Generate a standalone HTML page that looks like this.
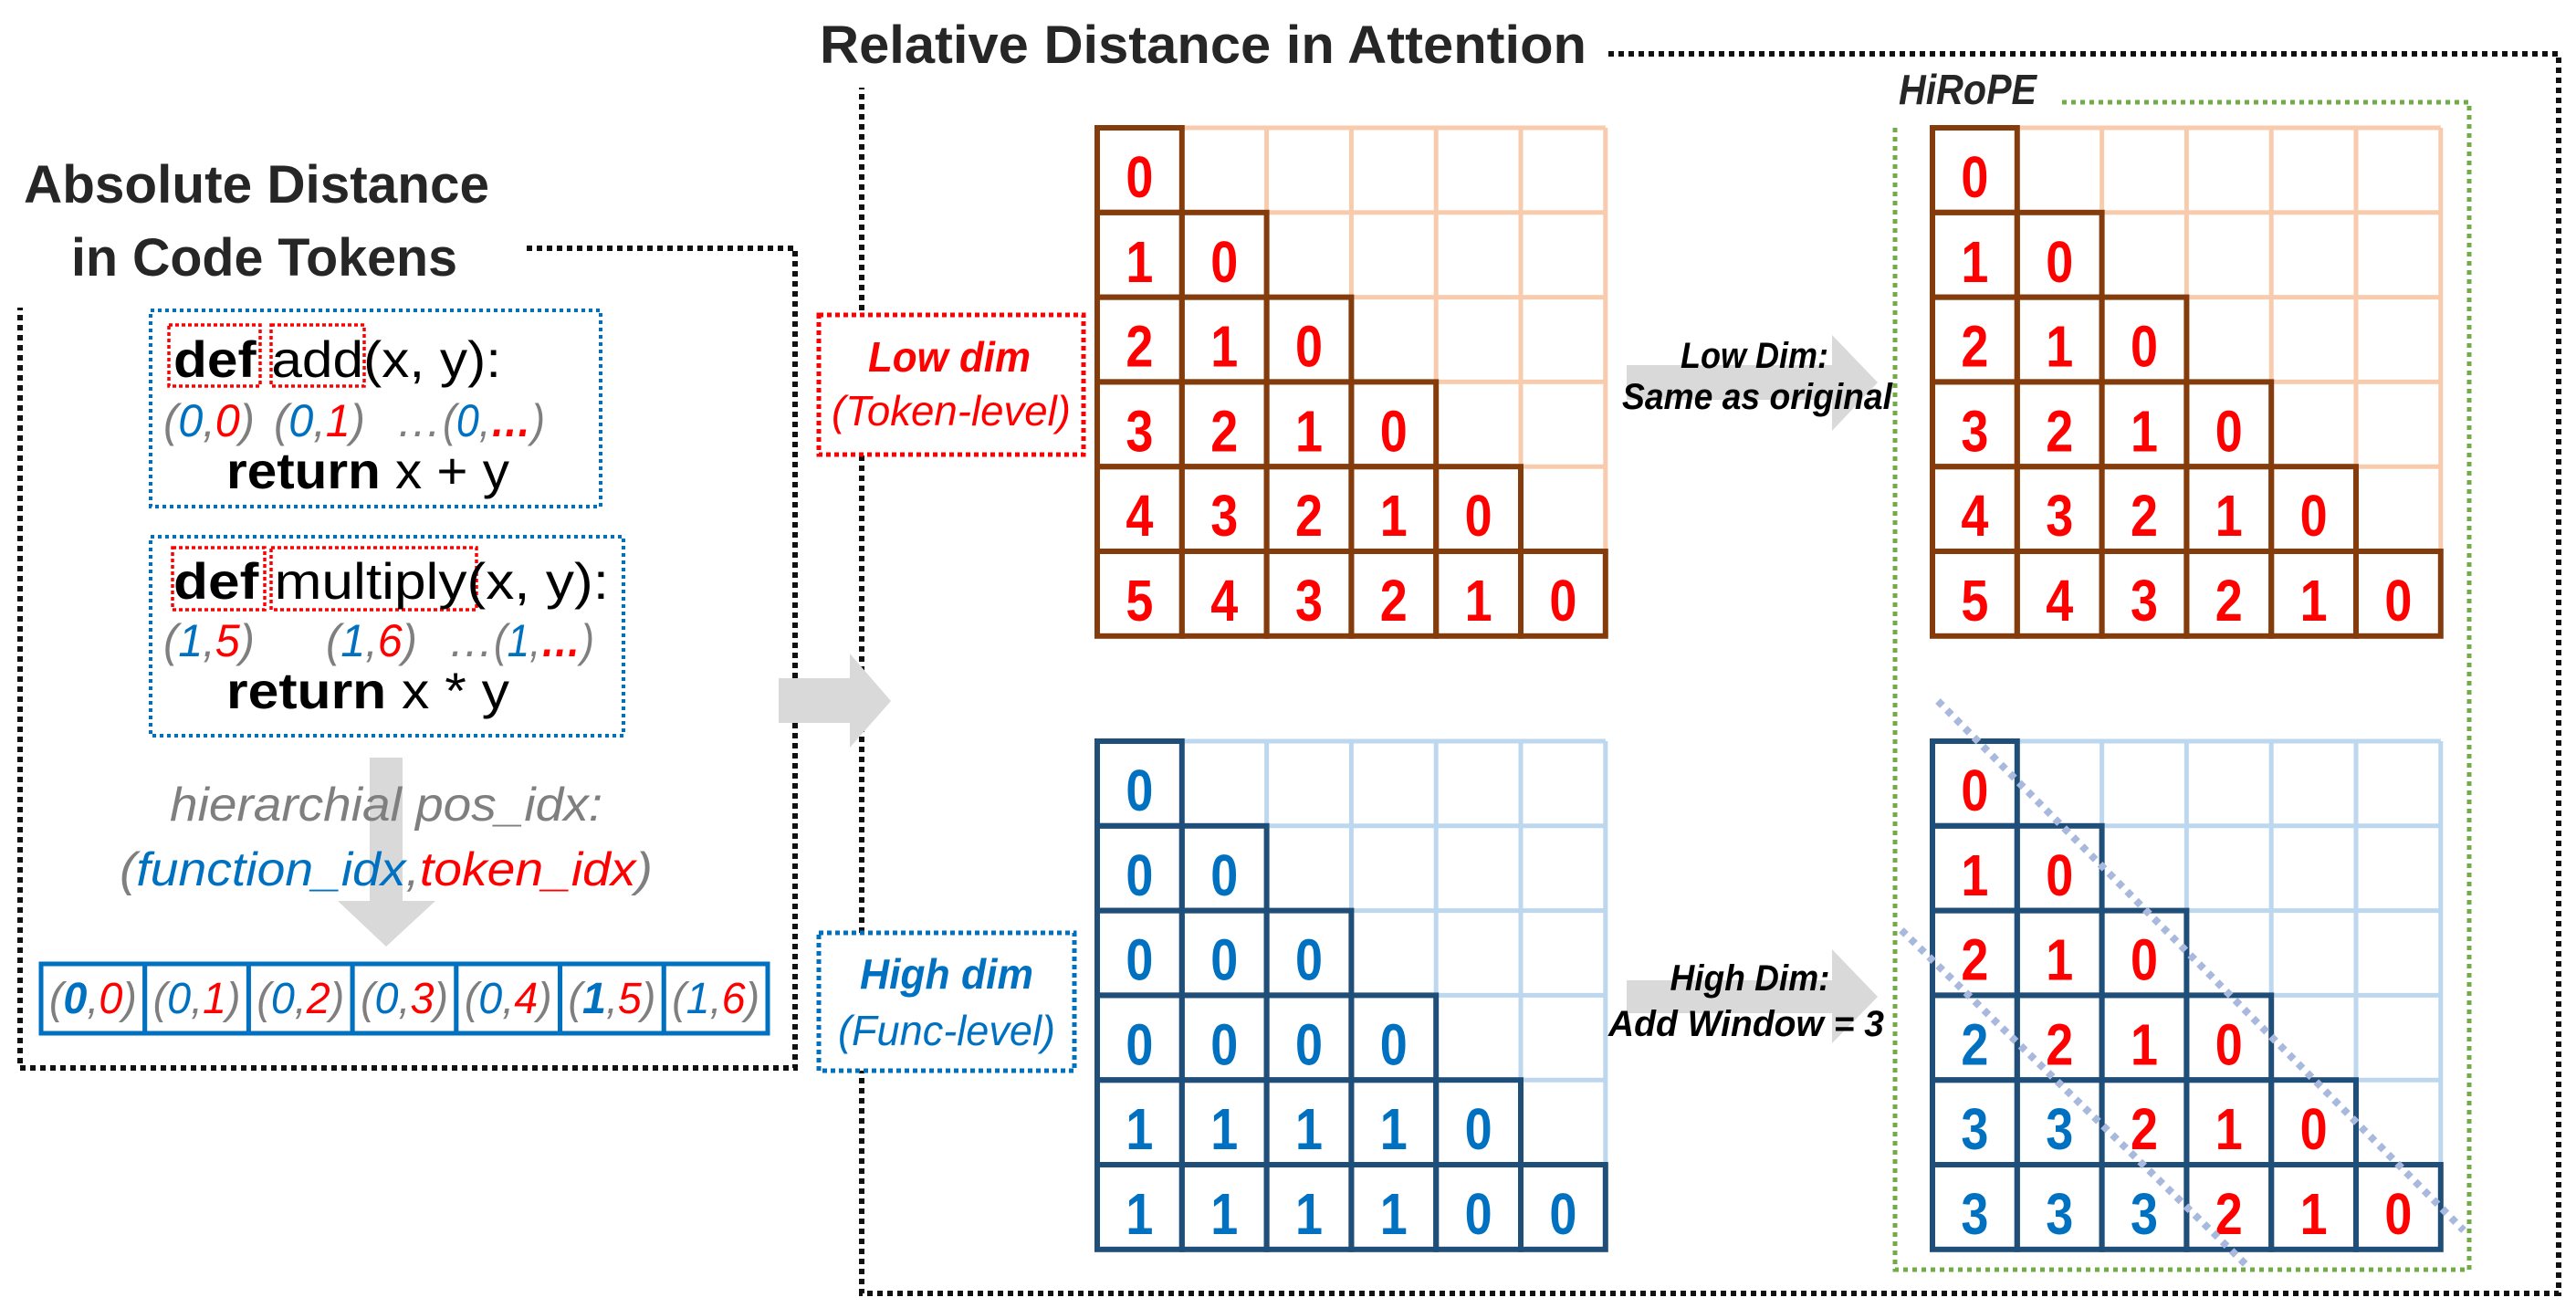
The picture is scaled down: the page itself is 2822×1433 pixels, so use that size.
<!DOCTYPE html>
<html><head><meta charset="utf-8"><title>HiRoPE figure</title>
<style>
html,body{margin:0;padding:0;background:#fff;}
svg{display:block;}
.n{font-family:"Liberation Sans Narrow","Liberation Sans",sans-serif;font-weight:bold;}
.s{font-family:"Liberation Sans",sans-serif;}
</style></head>
<body>
<svg id="fig" xmlns="http://www.w3.org/2000/svg" width="2822" height="1433" viewBox="0 0 2822 1433">
<rect width="2822" height="1433" fill="#fff"/>

<!-- LEFT PANEL -->
<g>
  <path d="M577,272 L871,272 L871,1170 L22,1170 L22,337" fill="none" stroke="#111" stroke-width="6" stroke-dasharray="6,5"/>
  <text x="26" y="222" class="s" font-weight="bold" font-size="58" fill="#262626" textLength="510" lengthAdjust="spacingAndGlyphs">Absolute Distance</text>
  <text x="78" y="302" class="s" font-weight="bold" font-size="58" fill="#262626" textLength="423" lengthAdjust="spacingAndGlyphs">in Code Tokens</text>

  <g>
    <rect x="165" y="340" width="493" height="215" fill="none" stroke="#0070c0" stroke-width="4" stroke-dasharray="4,4"/>
    <rect x="185" y="356" width="100" height="67" fill="none" stroke="#ff0000" stroke-width="3.5" stroke-dasharray="4,3"/>
    <rect x="297" y="356" width="102" height="67" fill="none" stroke="#ff0000" stroke-width="3.5" stroke-dasharray="4,3"/>
    <text x="190" y="413" class="s" font-size="56" fill="#000" textLength="359" lengthAdjust="spacingAndGlyphs"><tspan font-weight="bold">def</tspan> add(x, y):</text>
    <g class="s" font-style="italic" font-size="50">
      <text x="179" y="478" textLength="100" lengthAdjust="spacingAndGlyphs"><tspan fill="#7f7f7f">(</tspan><tspan fill="#0070c0">0</tspan><tspan fill="#7f7f7f">,</tspan><tspan fill="#ff0000">0</tspan><tspan fill="#7f7f7f">)</tspan></text>
      <text x="300" y="478" textLength="100" lengthAdjust="spacingAndGlyphs"><tspan fill="#7f7f7f">(</tspan><tspan fill="#0070c0">0</tspan><tspan fill="#7f7f7f">,</tspan><tspan fill="#ff0000">1</tspan><tspan fill="#7f7f7f">)</tspan></text>
      <text x="434" y="478" fill="#7f7f7f">…</text>
      <text x="485" y="478" textLength="112" lengthAdjust="spacingAndGlyphs"><tspan fill="#7f7f7f">(</tspan><tspan fill="#0070c0">0</tspan><tspan fill="#7f7f7f">,</tspan><tspan fill="#ff0000" font-weight="bold">…</tspan><tspan fill="#7f7f7f">)</tspan></text>
    </g>
    <text x="248" y="535" class="s" font-size="56" fill="#000" textLength="310" lengthAdjust="spacingAndGlyphs"><tspan font-weight="bold">return</tspan> x + y</text>
  </g>

  <g>
    <rect x="165" y="588" width="518" height="218" fill="none" stroke="#0070c0" stroke-width="4" stroke-dasharray="4,4"/>
    <rect x="189" y="600" width="101" height="68" fill="none" stroke="#ff0000" stroke-width="3.5" stroke-dasharray="4,3"/>
    <rect x="297" y="600" width="225" height="68" fill="none" stroke="#ff0000" stroke-width="3.5" stroke-dasharray="4,3"/>
    <text x="190" y="656" class="s" font-size="56" fill="#000" textLength="477" lengthAdjust="spacingAndGlyphs"><tspan font-weight="bold">def</tspan> multiply(x, y):</text>
    <g class="s" font-style="italic" font-size="50">
      <text x="179" y="719" textLength="100" lengthAdjust="spacingAndGlyphs"><tspan fill="#7f7f7f">(</tspan><tspan fill="#0070c0">1</tspan><tspan fill="#7f7f7f">,</tspan><tspan fill="#ff0000">5</tspan><tspan fill="#7f7f7f">)</tspan></text>
      <text x="357" y="719" textLength="100" lengthAdjust="spacingAndGlyphs"><tspan fill="#7f7f7f">(</tspan><tspan fill="#0070c0">1</tspan><tspan fill="#7f7f7f">,</tspan><tspan fill="#ff0000">6</tspan><tspan fill="#7f7f7f">)</tspan></text>
      <text x="491" y="719" fill="#7f7f7f">…</text>
      <text x="541" y="719" textLength="110" lengthAdjust="spacingAndGlyphs"><tspan fill="#7f7f7f">(</tspan><tspan fill="#0070c0">1</tspan><tspan fill="#7f7f7f">,</tspan><tspan fill="#ff0000" font-weight="bold">…</tspan><tspan fill="#7f7f7f">)</tspan></text>
    </g>
    <text x="248" y="776" class="s" font-size="56" fill="#000" textLength="310" lengthAdjust="spacingAndGlyphs"><tspan font-weight="bold">return</tspan> x * y</text>
  </g>

  <polygon points="405,830 441,830 441,987 477,987 423,1037 370,987 405,987" fill="#d9d9d9"/>
  <text x="186" y="899" class="s" font-style="italic" font-size="52" fill="#7f7f7f" textLength="474" lengthAdjust="spacingAndGlyphs">hierarchial pos_idx:</text>
  <text x="131" y="970" class="s" font-style="italic" font-size="52" textLength="584" lengthAdjust="spacingAndGlyphs"><tspan fill="#7f7f7f">(</tspan><tspan fill="#0070c0">function_idx</tspan><tspan fill="#7f7f7f">,</tspan><tspan fill="#ff0000">token_idx</tspan><tspan fill="#7f7f7f">)</tspan></text>
  <g id="tokenRow"></g>
</g>

<!-- RIGHT PANEL -->
<g>
  <path d="M1762,59 L2803,59 L2803,1417 L944,1417 L944,96" fill="none" stroke="#111" stroke-width="6" stroke-dasharray="6,5"/>
  <text x="898" y="69" class="n" font-size="58" fill="#262626" textLength="840" lengthAdjust="spacingAndGlyphs">Relative Distance in Attention</text>

  <polygon points="853,743 931,743 931,716 976,768 931,819 931,792 853,792" fill="#d9d9d9"/>

  <g>
    <rect x="897" y="345" width="290" height="153" fill="#fff" stroke="#ff0000" stroke-width="5" stroke-dasharray="5,4"/>
    <text x="1040" y="407" text-anchor="middle" class="n" font-style="italic" font-size="46" fill="#ff0000" textLength="178" lengthAdjust="spacingAndGlyphs">Low dim</text>
    <text x="1042" y="466" text-anchor="middle" class="n" style="font-weight:normal" font-style="italic" font-size="46" fill="#ff0000" textLength="262" lengthAdjust="spacingAndGlyphs">(Token-level)</text>
  </g>
  <g>
    <rect x="897" y="1022" width="280" height="151" fill="#fff" stroke="#0070c0" stroke-width="5" stroke-dasharray="5,4"/>
    <text x="1037" y="1083" text-anchor="middle" class="n" font-style="italic" font-size="46" fill="#0070c0" textLength="190" lengthAdjust="spacingAndGlyphs">High dim</text>
    <text x="1037" y="1145" text-anchor="middle" class="n" style="font-weight:normal" font-style="italic" font-size="46" fill="#0070c0" textLength="238" lengthAdjust="spacingAndGlyphs">(Func-level)</text>
  </g>

  <g>
    <polygon points="1782,400 2007,400 2007,367 2057,419 2007,472 2007,438 1782,438" fill="#d9d9d9"/>
    <text x="1922" y="403" text-anchor="middle" class="s" font-weight="bold" font-style="italic" font-size="40" fill="#000" textLength="162" lengthAdjust="spacingAndGlyphs">Low Dim:</text>
    <text x="1777" y="448" class="s" font-weight="bold" font-style="italic" font-size="40" fill="#000" textLength="296" lengthAdjust="spacingAndGlyphs">Same as original</text>
  </g>
  <g>
    <polygon points="1782,1074 2007,1074 2007,1040 2057,1092 2007,1143 2007,1110 1782,1110" fill="#d9d9d9"/>
    <text x="1917" y="1085" text-anchor="middle" class="s" font-weight="bold" font-style="italic" font-size="40" fill="#000" textLength="175" lengthAdjust="spacingAndGlyphs">High Dim:</text>
    <text x="1762" y="1135" class="s" font-weight="bold" font-style="italic" font-size="40" fill="#000" textLength="302" lengthAdjust="spacingAndGlyphs">Add  Window = 3</text>
  </g>

  <path d="M2259,112 L2705,112 L2705,1391 L2076,1391 L2076,140" fill="none" stroke="#70ad47" stroke-width="5" stroke-dasharray="5,5"/>
  <text x="2080" y="114" class="n" font-style="italic" font-size="46" fill="#262626" textLength="151" lengthAdjust="spacingAndGlyphs">HiRoPE</text>

  <g id="grids"></g>
  <line x1="2123" y1="768" x2="2699" y2="1348" stroke="#a9b9dd" stroke-width="8" stroke-dasharray="7,7"/>
  <line x1="2083" y1="1019" x2="2460" y2="1385" stroke="#a9b9dd" stroke-width="8" stroke-dasharray="7,7"/>
</g>
</svg>
<script>
// Token row data
const tokFunc = [0,0,0,0,0,1,1];
const tokIdx = [0,1,2,3,4,5,6];
const tokBoldFunc = [true,false,false,false,false,true,false];

// Grid values (r = red, b = blue)
const lowVals = [[0],[1,0],[2,1,0],[3,2,1,0],[4,3,2,1,0],[5,4,3,2,1,0]];
const highVals = [[0],[0,0],[0,0,0],[0,0,0,0],[1,1,1,1,0],[1,1,1,1,0,0]];
const hiropeVals = [[0],[1,0],[2,1,0],[2,2,1,0],[3,3,2,1,0],[3,3,3,2,1,0]];
const hiropeColors = [["r"],["r","r"],["r","r","r"],["b","r","r","r"],["b","b","r","r","r"],["b","b","b","r","r","r"]];

const NS = "http://www.w3.org/2000/svg";
function mk(tag, attrs, parent){const e=document.createElementNS(NS,tag);for(const k in attrs)e.setAttribute(k,attrs[k]);parent.appendChild(e);return e;}

const tr = document.getElementById('tokenRow');
const rx0=45, ry0=1056, rw=(841-45)/7, rh=76;
for(let i=0;i<tokFunc.length;i++){
  const cell = mk('rect',{x:rx0+i*rw,y:ry0,width:rw,height:rh,fill:'#fff',stroke:'#0070c0','stroke-width':5},tr);
  
  
  const t = mk('text',{x:rx0+i*rw+rw/2,y:1110,'text-anchor':'middle','font-family':'Liberation Sans, sans-serif','font-style':'italic','font-size':48,textLength:96,lengthAdjust:'spacingAndGlyphs'},tr);
  
  
  const parts=[['(','#7f7f7f',false],[String(tokFunc[i]),'#0070c0',tokBoldFunc[i]],[',','#7f7f7f',false],[String(tokIdx[i]),'#ff0000',false],[')','#7f7f7f',false]];
  parts.forEach(p=>{const s=mk('tspan',{fill:p[1]},t);if(p[2])s.setAttribute('font-weight','bold');s.textContent=p[0];});
}

const gg = document.getElementById('grids');
const CELL=92.8;
function grid(x0,y0,vals,colors,light,dark,defColor,name){
  const g = mk('g',{},gg);
  
  
  for(let i=0;i<=6;i++){
    mk('line',{x1:x0+i*CELL,y1:y0,x2:x0+i*CELL,y2:y0+6*CELL,stroke:light,'stroke-width':5},g);
    mk('line',{x1:x0,y1:y0+i*CELL,x2:x0+6*CELL,y2:y0+i*CELL,stroke:light,'stroke-width':5},g);
  }
  for(let r=0;r<vals.length;r++){
    for(let c=0;c<vals[r].length;c++){
      const cell = mk('rect',{x:x0+c*CELL,y:y0+r*CELL,width:CELL,height:CELL,fill:'none',stroke:dark,'stroke-width':6},g);
      
      
      const col = colors ? (colors[r][c]==='b'?'#0070c0':'#ff0000') : defColor;
      const t = mk('text',{x:x0+c*CELL+CELL/2,y:y0+r*CELL+76,'text-anchor':'middle','font-family':'Liberation Sans, sans-serif','font-weight':'bold','font-size':64,textLength:30,lengthAdjust:'spacingAndGlyphs',fill:col},g);
      
      
      t.textContent = vals[r][c];
    }
  }
}
grid(1202,140,lowVals,null,'#f8cbad','#843c0c','#ff0000','low-dim-grid');
grid(2117,140,lowVals,null,'#f8cbad','#843c0c','#ff0000','hirope-low-grid');
grid(1202,812,highVals,null,'#bdd7ee','#1f4e79','#0070c0','high-dim-grid');
grid(2117,812,hiropeVals,hiropeColors,'#bdd7ee','#1f4e79','#ff0000','hirope-high-grid');
</script>
</body></html>
